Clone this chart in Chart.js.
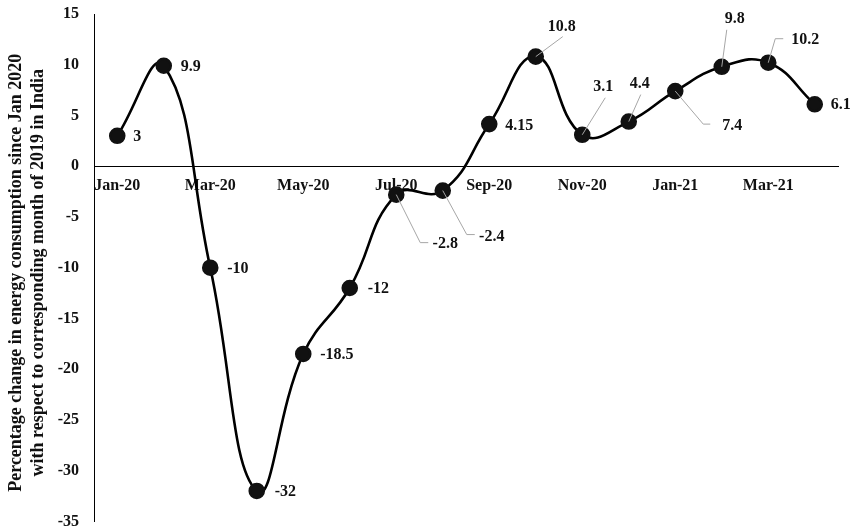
<!DOCTYPE html>
<html><head><meta charset="utf-8">
<script src="https://cdn.jsdelivr.net/npm/chart.js@4/dist/chart.umd.min.js"></script>
<style>html,body{margin:0;padding:0;background:#fff}#wrap{width:856px;height:531px}</style>
</head><body><div id="wrap"><canvas id="c" width="856" height="531"></canvas></div>
<script>
const months = ['Jan-20','Feb-20','Mar-20','Apr-20','May-20','Jun-20','Jul-20','Aug-20','Sep-20','Oct-20','Nov-20','Dec-20','Jan-21','Feb-21','Mar-21','Apr-21'];
const energyChange = [3, 9.9, -10, -32, -18.5, -12, -2.8, -2.4, 4.15, 10.8, 3.1, 4.4, 7.4, 9.8, 10.2, 6.1];
const valueLabels = ['3','9.9','-10','-32','-18.5','-12','-2.8','-2.4','4.15','10.8','3.1','4.4','7.4','9.8','10.2','6.1'];
const yTitle = ['Percentage change in energy consumption since Jan 2020','with respect to corresponding month of 2019 in India'];

// label placement relative to each point (pixels)
const placement = [
  {dx:16, dy:1, align:'left'},
  {dx:17, dy:1, align:'left'},
  {dx:17, dy:1, align:'left'},
  {dx:18, dy:1, align:'left'},
  {dx:17, dy:1, align:'left'},
  {dx:18, dy:1, align:'left'},
  {dx:49, dy:49, align:'center', leader:[[24,48],[32,48]]},
  {dx:49, dy:46, align:'center', leader:[[24,44],[32,44]]},
  {dx:16, dy:2, align:'left'},
  {dx:26, dy:-30, align:'center', leader:[[27,-20]]},
  {dx:21, dy:-48, align:'center', leader:[[23,-37]]},
  {dx:11, dy:-38, align:'center', leader:[[12,-27]]},
  {dx:57, dy:35, align:'center', leader:[[28,33],[35,33]]},
  {dx:13, dy:-48, align:'center', leader:[[5,-37]]},
  {dx:37, dy:-23, align:'center', leader:[[7,-24],[15,-24]]},
  {dx:16, dy:1, align:'left'}
];

const FONT = '"Liberation Serif", "Times New Roman", serif';

const labelPlugin = {
  id: 'valueLabels',
  afterDatasetsDraw(chart) {
    const ctx = chart.ctx;
    const meta = chart.getDatasetMeta(0);
    ctx.save();
    meta.data.forEach((pt, i) => {
      const p = placement[i];
      if (p.leader) {
        ctx.strokeStyle = '#a6a6a6';
        ctx.lineWidth = 1;
        ctx.beginPath();
        ctx.moveTo(pt.x, pt.y);
        p.leader.forEach(q => ctx.lineTo(pt.x + q[0], pt.y + q[1]));
        ctx.stroke();
      }
    });
    meta.data.forEach((pt, i) => {
      const p = placement[i];
      ctx.fillStyle = '#111';
      ctx.font = 'bold 16px ' + FONT;
      ctx.textAlign = p.align;
      ctx.textBaseline = 'middle';
      ctx.fillText(valueLabels[i], pt.x + p.dx, pt.y + p.dy);
    });
    // y-axis title
    const area = chart.chartArea;
    const cy = (area.top + area.bottom) / 2 + 5;
    ctx.fillStyle = '#111';
    ctx.font = 'bold 18px ' + FONT;
    ctx.textAlign = 'center';
    ctx.textBaseline = 'alphabetic';
    [21, 43].forEach((bx, k) => {
      ctx.save();
      ctx.translate(bx, cy);
      ctx.rotate(-Math.PI / 2);
      ctx.fillText(yTitle[k], 0, 0);
      ctx.restore();
    });
    ctx.restore();
  }
};

new Chart(document.getElementById('c'), {
  type: 'line',
  data: {
    labels: months,
    datasets: [{
      data: energyChange,
      borderColor: '#000',
      backgroundColor: '#000',
      borderWidth: 2.6,
      tension: 0.45,
      pointRadius: 7,
      pointHoverRadius: 7,
      pointBackgroundColor: '#111',
      pointBorderColor: '#111',
      fill: false
    }]
  },
  options: {
    responsive: false,
    animation: false,
    events: [],
    layout: { padding: { top: 14, bottom: 7, right: 18, left: 0 } },
    plugins: { legend: { display: false }, tooltip: { enabled: false } },
    scales: {
      x: {
        position: { y: 0 },
        offset: true,
        grid: { display: false, drawTicks: false },
        border: { display: true, color: '#000', width: 1 },
        afterFit(scale) { scale.paddingLeft = 0; scale.paddingRight = 0; },
        ticks: {
          autoSkip: false,
          maxRotation: 0,
          padding: 10,
          color: '#111',
          font: { family: FONT, size: 16, weight: 'bold' },
          callback: function(v, i) { return i % 2 === 0 ? months[i] : ''; }
        }
      },
      y: {
        min: -35, max: 15,
        afterFit(scale) { scale.width = 94; scale.paddingTop = 0; scale.paddingBottom = 0; },
        grid: { display: false, drawTicks: false },
        border: { display: true, color: '#000', width: 1 },
        ticks: {
          stepSize: 5,
          padding: 15,
          color: '#111',
          font: { family: FONT, size: 16, weight: 'bold' }
        }
      }
    }
  },
  plugins: [labelPlugin]
});
</script></body></html>
